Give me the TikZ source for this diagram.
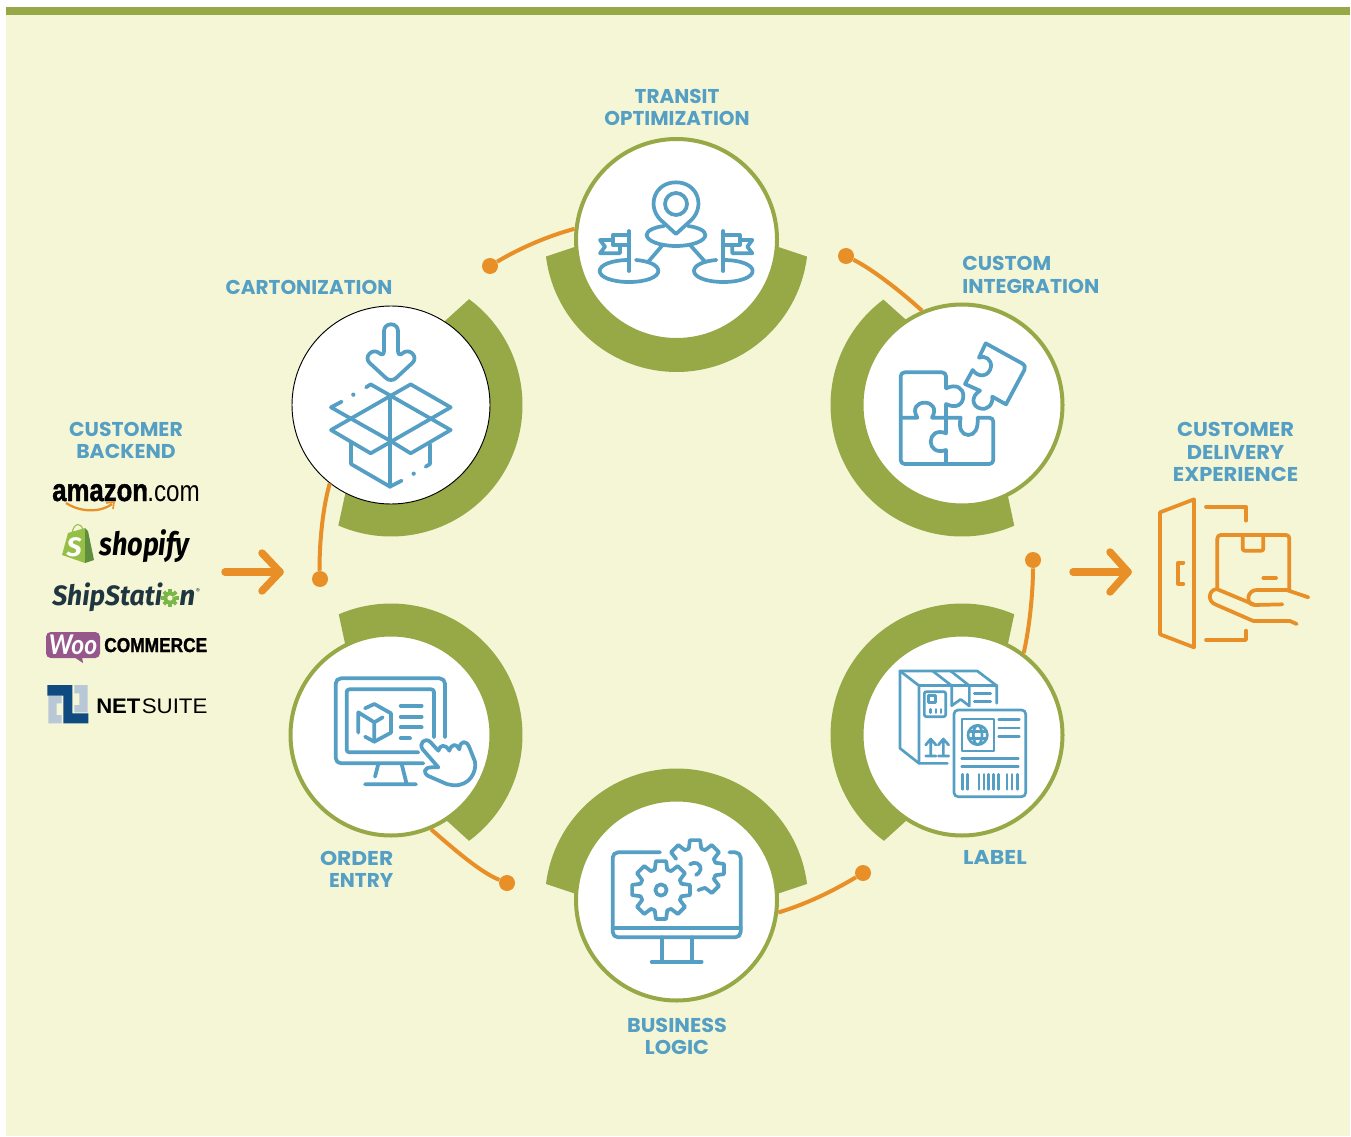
\documentclass[tikz,border=0pt]{standalone}
\usepackage{fontspec}
\setmainfont{Poppins}
\newfontfamily\libsans{Liberation Sans}
\newfontfamily\libheavy[BoldFeatures={FakeBold=1.5}]{Liberation Sans}
\newfontfamily\fira{Fira Sans}
\newfontfamily\lato{Lato}
\definecolor{olivec}{HTML}{97A846}
\definecolor{creamc}{HTML}{F5F6D6}
\definecolor{bluec}{HTML}{559FC4}
\definecolor{orangec}{HTML}{E88F27}
\definecolor{shipdark}{HTML}{1F3540}
\definecolor{shipgreen}{HTML}{7AB648}
\definecolor{shopgreen}{HTML}{95BF47}
\definecolor{shopdark}{HTML}{5E8E3E}
\definecolor{wooc}{HTML}{96588A}
\definecolor{nsdark}{HTML}{0F4A80}
\definecolor{nslight}{HTML}{B9C8D6}
\newcommand\oliveband[4]{%
  \fill[olivec] plot[domain=#3:#4,samples=90] ({#1+131.5*cos(\x)},{#2+131.5*sin(\x)})
    -- plot[domain=#4+4.3:#3-4.3,samples=90] ({#1+96*cos(\x)},{#2+96*sin(\x)}) -- cycle;}
\tikzset{
  pxscope/.style={x=0.25pt,y=-0.25pt},
  stationring/.style={circle,draw=olivec,line width=3pt,fill=white,minimum size=150.75pt,inner sep=0pt},
  stationblack/.style={circle,draw=black,line width=0.7pt,fill=white,minimum size=148.5pt,inner sep=0pt},
  titlelabel/.style={text=bluec,font=\fontsize{15}{16.6}\selectfont\bfseries,inner sep=0pt},
  icon/.style={draw=bluec,line width=2.8pt,line cap=round,line join=round},
  iconthin/.style={draw=bluec,line width=2pt,line cap=round,line join=round},
  iconorange/.style={draw=orangec,line width=2.8pt,line cap=round,line join=round},
  conn/.style={draw=orangec,line width=3pt},
  enddot/.style={circle,fill=orangec,minimum size=12pt,inner sep=0pt},
  bigarrow/.style={draw=orangec,line width=5.6pt,line cap=round,line join=round},
  logotext/.style={anchor=base west,inner sep=0pt},
}
\begin{document}
\begin{tikzpicture}[x=0.75pt,y=-0.75pt]
\useasboundingbox (0,0) rectangle (1351,1137);
\fill[white] (0,0) rectangle (1351,1137);
\fill[creamc] (6,8) rectangle (1350,1136);
\fill[olivec] (6,7) rectangle (1350,15);

% thick bands
\oliveband{676.5}{240.5}{7}{173}
\oliveband{391}{405}{-53.6}{113.6}
\oliveband{962}{405}{66.6}{233.3}
\oliveband{391}{735}{-113.4}{53.6}
\oliveband{962}{735}{126.4}{293.4}
\oliveband{676.5}{900}{187}{353}

% stations
\node[stationring] (transit) at (676.5,239.5) {};
\node[stationblack] (carton) at (391,405) {};
\node[stationring] (custom) at (962,405) {};
\node[stationring] (order) at (391,735) {};
\node[stationring] (label) at (962,735) {};
\node[stationring] (business) at (676.5,900) {};

% dots and connectors
\node[enddot] (d1) at (490,266) {};
\node[enddot] (d2) at (846,256) {};
\node[enddot] (d3) at (320,579) {};
\node[enddot] (d4) at (507,883) {};
\node[enddot] (d5) at (863,873) {};
\node[enddot] (d6) at (1033,560) {};
\draw[conn] (d1) .. controls (520,248) and (548,236) .. (transit.174);
\draw[conn] (d2) .. controls (870,268) and (897,288) .. (custom.113.8);
\draw[conn] (d3) .. controls (319,550) and (322,510) .. (carton.232);
\draw[conn] (d4) .. controls (480,872) and (455,850) .. (order.293.3);
\draw[conn] (d5) .. controls (838,888) and (810,903) .. (business.353.7);
\draw[conn] (d6) .. controls (1033,590) and (1030,625) .. (label.53.7);

% labels
\node[titlelabel,align=center] (tTransit) at (677,107.5) {TRANSIT\\OPTIMIZATION};
\node[titlelabel] (tCarton) at (309,287) {CARTONIZATION};
\node[titlelabel,align=left,anchor=west,transform shape,xscale=1.015] (tCustom) at (962,275) {CUSTOM\\INTEGRATION};
\node[titlelabel,align=center,transform shape,xscale=1.02] (tBackend) at (126,440) {CUSTOMER\\BACKEND};
\node[titlelabel,align=center,transform shape,xscale=1.05] (tDelivery) at (1235.5,452) {CUSTOMER\\DELIVERY\\EXPERIENCE};
\node[titlelabel,anchor=east,transform shape,xscale=1.09] (tOrderA) at (393.5,858) {ORDER};
\node[titlelabel,anchor=east,transform shape,xscale=1.0] (tOrderB) at (393.5,880) {ENTRY};
\node[titlelabel,transform shape,xscale=1.1] (tLabel) at (995,857) {LABEL};
\node[titlelabel,align=center,transform shape,xscale=1.04] (tBusiness) at (677,1036.5) {BUSINESS\\LOGIC};

% big arrows
\coordinate (a1s) at (225,572); \coordinate (a1e) at (280,572);
\coordinate (a1u) at (262,553); \coordinate (a1d) at (262,591);
\draw[bigarrow] (a1s) -- (a1e); \draw[bigarrow] (a1u) -- (a1e) -- (a1d);
\coordinate (a2s) at (1073,572); \coordinate (a2e) at (1128,572);
\coordinate (a2u) at (1110,552); \coordinate (a2d) at (1110,592);
\draw[bigarrow] (a2s) -- (a2e); \draw[bigarrow] (a2u) -- (a2e) -- (a2d);

% cartonization icon
\begin{scope}[shift={(280,290)},pxscope]
\draw[icon,rounded corners=5pt] (312,203) -- (312,103) -- (354,103) -- (354,203) -- (382,176) -- (412,205) -- (333,278) -- (254,205) -- (284,176) -- cycle;
\draw[icon] (258,292) -- (272,283) -- (512,420) -- (392,490) -- (330,452);
\draw[icon] (392,283) -- (512,352) -- (272,490) -- (153,420) -- cycle;
\draw[icon] (185,335) -- (153,352) -- (330,452);
\draw[icon] (330,318) -- (330,590);
\draw[icon] (213,458) -- (213,522) -- (330,590) -- (365,572);
\draw[icon] (450,462) -- (450,522) -- (437,530);
\fill[bluec] (220,314) circle (1.6pt) (401,551) circle (1.6pt);
\end{scope}

% transit icon
\begin{scope}[shift={(540,130)},pxscope]
\draw[icon] (360,268) .. controls (320,225) and (345,157) .. (408,157) .. controls (471,157) and (496,225) .. (456,268) -- (408,312) -- cycle;
\draw[icon] (408,222) circle (33);
\draw[icon] (372,288) .. controls (340,292) and (320,303) .. (320,315) .. controls (320,333) and (360,348) .. (408,348) .. controls (456,348) and (496,333) .. (496,315) .. controls (496,303) and (476,292) .. (444,288);
\draw[icon] (368,345) -- (325,395) (450,345) -- (495,395);
\draw[icon] (267,390) .. controls (215,390) and (179,405) .. (179,423) .. controls (179,441) and (215,456) .. (267,456) .. controls (319,456) and (355,441) .. (355,423) .. controls (355,405) and (325,393) .. (288,390);
\draw[icon] (550,390) .. controls (602,390) and (638,405) .. (638,423) .. controls (638,441) and (602,456) .. (550,456) .. controls (498,456) and (462,441) .. (462,423) .. controls (462,405) and (492,393) .. (529,390);
\draw[icon] (267,423) -- (267,303) (550,423) -- (550,303);
\draw[icon] (267,315) -- (218,315) -- (218,345) -- (267,345);
\draw[icon] (218,330) -- (180,330) -- (195,350) -- (180,370) -- (240,370) -- (240,345);
\draw[icon] (550,315) -- (599,315) -- (599,345) -- (550,345);
\draw[icon] (599,330) -- (637,330) -- (622,350) -- (637,370) -- (577,370) -- (577,345);
\end{scope}

% puzzle icon
\begin{scope}[shift={(830,290)},pxscope]
\draw[icon,rounded corners=3pt] (348,295) -- (348,247) -- (212,247) -- (212,522) -- (490,522) -- (490,383) -- (443,383);
\draw[icon] (348,295) .. controls (380,280) and (400,295) .. (400,318) .. controls (400,342) and (380,358) .. (348,342) -- (348,430) .. controls (320,418) and (302,435) .. (302,455) .. controls (302,475) and (320,490) .. (348,480) -- (348,522);
\draw[icon] (212,383) -- (262,383) .. controls (245,355) and (262,338) .. (284,338) .. controls (306,338) and (322,355) .. (306,383) -- (392,383) .. controls (385,415) and (395,435) .. (415,435) .. controls (435,435) and (445,415) .. (443,383);
\draw[icon] (467,160) -- (574,219) .. controls (585,225) and (587,232) .. (583,240) -- (528,343) -- (487,320) .. controls (490,345) and (470,362) .. (450,355) .. controls (428,350) and (420,320) .. (450,302) -- (405,282) -- (428,240) .. controls (445,265) and (478,260) .. (483,230) .. controls (485,208) and (465,195) .. (447,203) -- cycle;
\end{scope}

% label icon
\begin{scope}[shift={(860,640)},pxscope]
\draw[iconthin] (120,93) -- (352,93) -- (410,137) -- (410,190);
\draw[iconthin] (120,93) -- (120,325) -- (177,370) -- (262,370);
\draw[iconthin] (120,93) -- (177,137) -- (177,370);
\draw[iconthin] (177,137) -- (410,137);
\draw[iconthin] (218,93) -- (275,137) -- (275,197) -- (302,178) -- (328,198) -- (328,137) -- (272,93);
\draw[iconthin,rounded corners=1.5pt] (193,155) rectangle (257,230);
\draw[iconthin] (205,167) rectangle (227,188);
\draw[iconthin] (212,208) -- (212,218) (228,208) -- (228,218) (243,208) -- (243,218);
\draw[iconthin] (343,160) -- (392,160) (343,185) -- (392,185);
\draw[iconthin] (212,298) -- (212,348) (197,315) -- (212,297) -- (228,315) (197,348) -- (228,348);
\draw[iconthin] (250,298) -- (250,348) (235,315) -- (250,297) -- (266,315) (235,348) -- (266,348);
\draw[iconthin,fill=white,rounded corners=3pt] (282,210) rectangle (497,470);
\draw[iconthin] (306,237) rectangle (402,333);
\draw[iconthin] (353,285) circle (29);
\draw[iconthin] (353,285) ellipse [x radius=13,y radius=29];
\draw[iconthin] (327,275) -- (379,275) (327,295) -- (379,295);
\draw[iconthin] (416,238) -- (478,238) (416,264) -- (478,264) (416,289) -- (478,289);
\draw[iconthin] (305,356) -- (475,356) (305,380) -- (475,380);
\foreach \bx in {308,323,357,372,386,400,415,441,456,473} {\draw[iconthin] (\bx,403) -- (\bx,448);}
\end{scope}

% business logic icon
\begin{scope}[shift={(590,820)},pxscope]
\draw[icon,rounded corners=4pt] (210,97) -- (68,97) -- (68,352) -- (452,352) -- (452,97) -- (418,97);
\draw[icon] (68,325) -- (452,325);
\draw[icon] (215,352) -- (215,425) (305,352) -- (305,425) (185,425) -- (335,425);
\begin{scope}[shift={(213,210)}]
\draw[icon] (-17:64) \foreach \a in {0,45,...,315} { -- (\a-17:64) -- (\a-10:88) -- (\a+10:88) -- (\a+17:64)} -- cycle;
\draw[icon] (0,0) circle (17);
\end{scope}
\begin{scope}[shift={(315,147)}]
\draw[icon] (81:64) -- (62:64) \foreach \a in {45,0,-45,-90,-135} { -- (\a+17:64) -- (\a+10:88) -- (\a-10:88) -- (\a-17:64)};
\draw[icon] (-15,-14) .. controls (0,-25) and (18,-15) .. (17,0) .. controls (16,10) and (8,15) .. (3,18);
\end{scope}
\end{scope}

% order entry icon
\begin{scope}[shift={(310,660)},pxscope]
\draw[icon,rounded corners=4pt] (405,232) -- (405,55) -- (77,55) -- (77,310) -- (340,310);
\draw[icon,rounded corners=2pt] (372,232) -- (372,88) -- (110,88) -- (110,277) -- (325,277);
\draw[icon] (205,312) -- (195,350) (275,312) -- (290,372) (165,373) -- (318,373);
\draw[icon] (165,145) -- (193,132) -- (243,160) -- (243,218) -- (193,245) -- (165,230);
\draw[icon] (145,218) -- (145,157) -- (193,187) -- (218,172) (193,187) -- (193,245);
\draw[icon] (272,137) -- (335,137) (272,170) -- (335,170) (272,202) -- (335,202) (272,235) -- (300,235);
\draw[icon,fill=white] (385,322) -- (338,268) .. controls (325,250) and (345,232) .. (360,245) -- (385,272) .. controls (390,255) and (405,250) .. (418,272) .. controls (425,250) and (440,250) .. (448,268) .. controls (450,240) and (470,240) .. (478,262) -- (495,305) .. controls (500,335) and (480,378) .. (430,376) -- (410,372) -- (355,348) .. controls (338,338) and (342,322) .. (365,322) -- cycle;
\end{scope}

% delivery icon
\begin{scope}[shift={(1060,490)},pxscope]
\draw[iconorange] (300,67) -- (402,28) -- (402,472) -- (300,433) -- cycle;
\draw[iconorange] (370,218) -- (355,218) -- (355,282) -- (370,282);
\draw[iconorange] (438,50) -- (558,50) -- (558,92);
\draw[iconorange] (438,450) -- (558,450) -- (558,422);
\draw[iconorange,rounded corners=2.5pt] (472,292) -- (472,135) -- (688,135) -- (688,300);
\draw[iconorange,rounded corners=1.5pt] (548,135) -- (548,182) -- (610,182) -- (610,135);
\draw[iconorange] (610,264) -- (648,264);
\draw[iconorange] (745,322) -- (680,300) -- (590,300) .. controls (560,300) and (555,345) .. (585,345) -- (667,343);
\draw[iconorange] (585,345) -- (470,297) .. controls (445,300) and (440,335) .. (470,345) -- (580,393) -- (690,393) -- (710,402);
\end{scope}

% amazon logo
\node[logotext] (amz) at (52,501) {\scalebox{1}[1.22]{\libheavy\bfseries\fontsize{19.3}{20}\selectfont amazon}};
\node[logotext] (amzb) at (147,501) {\scalebox{1}[1.22]{\libsans\fontsize{18.2}{20}\selectfont .com}};
\coordinate (sm1) at (66,503); \coordinate (sm2) at (112,504);
\draw[orangec,line width=1.7pt] (sm1) .. controls (78,511) and (98,514) .. (sm2);
\draw[orangec,line width=1.2pt] (106,503) -- (114,502) -- (113,509);
% shopify logo
\fill[shopgreen] (62,555) -- (68,533) -- (85,528) -- (85,563) -- cycle;
\fill[shopdark] (85,528) -- (88,531) -- (94,560) -- (85,563) -- cycle;
\draw[shopgreen,line width=.8pt] (72,533) .. controls (74,522) and (82,522) .. (83,531);
\node[text=white,inner sep=0pt] (shopS) at (74,547) {\fira\bfseries\itshape\fontsize{20}{20}\selectfont S};
\node[logotext] (shop) at (99,555) {\scalebox{.85}[1]{\fira\bfseries\itshape\fontsize{24}{25}\selectfont shopify}};
% shipstation logo
\node[logotext,text=shipdark] (ship) at (52,605.5) {\scalebox{.95}[1]{\fira\bfseries\itshape\fontsize{21}{22}\selectfont ShipStati}};
\node[logotext,text=shipdark] (shipn) at (179,605.5) {\fira\bfseries\itshape\fontsize{21}{22}\selectfont n};
\begin{scope}[shift={(170,598)},x=0.75pt,y=-0.75pt]
\fill[shipgreen] (0,0) \foreach \a in {0,45,...,315} { -- (\a-17:6.5) -- (\a-12:9) -- (\a+12:9) -- (\a+17:6.5)} -- cycle;
\fill[creamc] (0,0) circle (2pt);
\end{scope}
\node[text=shipdark,inner sep=0pt] (shipr) at (198,591) {\fira\fontsize{5}{5}\selectfont ®};
% woocommerce logo
\fill[wooc,rounded corners=3.5pt] (46,632) rectangle (100,658);
\fill[wooc] (74,657) -- (83,663) -- (82,657) -- cycle;
\node[text=white,inner sep=0pt] (woo) at (73,645) {\scalebox{1}[1.1]{\lato\bfseries\itshape\fontsize{18.5}{19}\selectfont Woo}};
\node[logotext] (comm) at (104,652) {\scalebox{.866}[1]{\libheavy\bfseries\fontsize{15}{16}\selectfont COMMERCE}};
% netsuite logo
\begin{scope}[shift={(40,625)},pxscope]
\fill[nslight] (25,212) -- (65,212) -- (65,235) -- (50,235) -- (50,270) -- (65,270) -- (65,295) -- (25,295) -- cycle;
\fill[nslight] (103,180) -- (143,180) -- (143,262) -- (103,262) -- (103,240) -- (118,240) -- (118,205) -- (103,205) -- cycle;
\fill[nsdark] (22,180) -- (97,180) -- (97,265) -- (145,265) -- (145,295) -- (70,295) -- (70,212) -- (22,212) -- cycle;
\end{scope}
\node[logotext] (nsa) at (96,713) {\scalebox{1.05}[1]{\libsans\bfseries\fontsize{15.8}{16}\selectfont NET}};
\node[logotext] (nsb) at (141.5,713) {\scalebox{1.06}[1]{\libsans\fontsize{15.8}{16}\selectfont SUITE}};
\end{tikzpicture}
\end{document}
